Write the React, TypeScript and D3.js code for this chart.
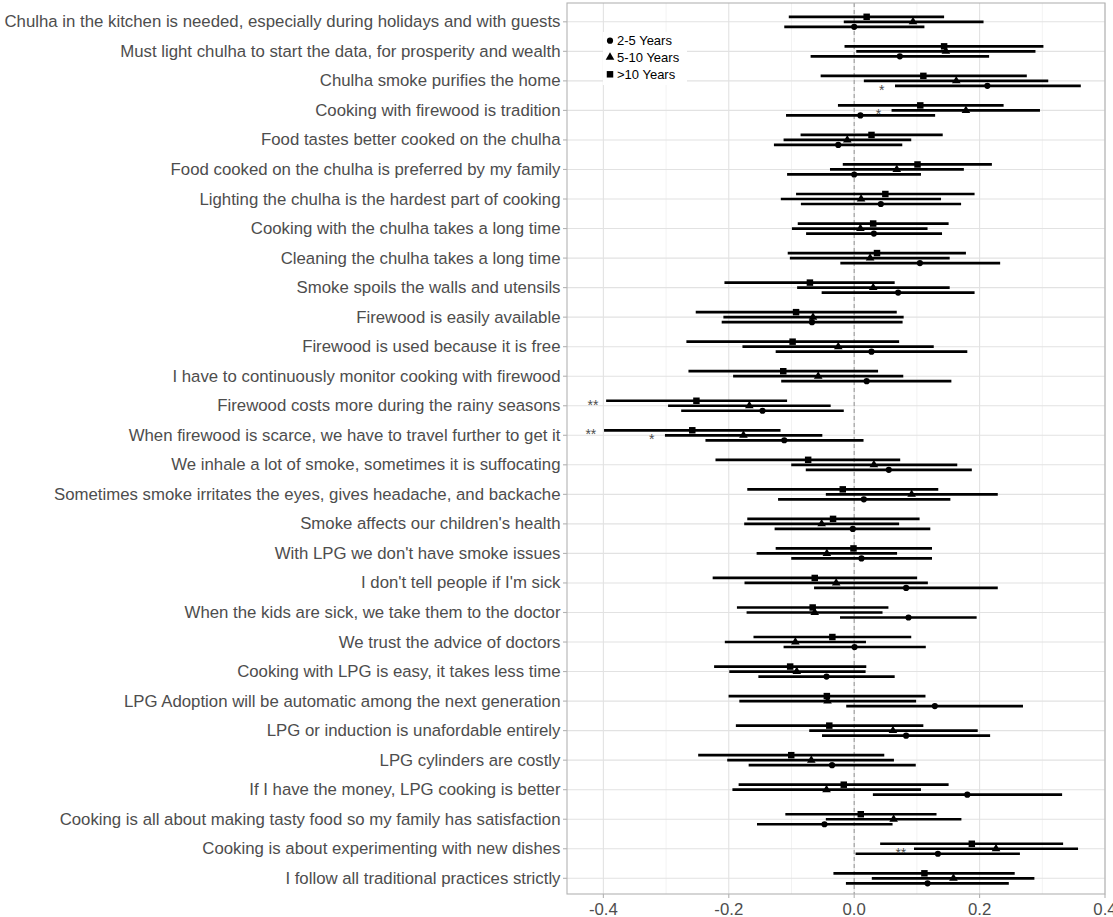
import React from "react";
import * as d3 from "d3";

const questions = [
  "Chulha in the kitchen is needed, especially during holidays and with guests",
  "Must light chulha to start the data, for prosperity and wealth",
  "Chulha smoke purifies the home",
  "Cooking with firewood is tradition",
  "Food tastes better cooked on the chulha",
  "Food cooked on the chulha is preferred by my family",
  "Lighting the chulha is the hardest part of cooking",
  "Cooking with the chulha takes a long time",
  "Cleaning the chulha takes a long time",
  "Smoke spoils the walls and utensils",
  "Firewood is easily available",
  "Firewood is used because it is free",
  "I have to continuously monitor cooking with firewood",
  "Firewood costs more during the rainy seasons",
  "When firewood is scarce, we have to travel further to get it",
  "We inhale a lot of smoke, sometimes it is suffocating",
  "Sometimes smoke irritates the eyes, gives headache, and backache",
  "Smoke affects our children's health",
  "With LPG we don't have smoke issues",
  "I don't tell people if I'm sick",
  "When the kids are sick, we take them to the doctor",
  "We trust the advice of doctors",
  "Cooking with LPG is easy, it takes less time",
  "LPG Adoption will be automatic among the next generation",
  "LPG or induction is unafordable entirely",
  "LPG cylinders are costly",
  "If I have the money, LPG cooking is better",
  "Cooking is all about making tasty food so my family has satisfaction",
  "Cooking is about experimenting with new dishes",
  "I follow all traditional practices strictly",
];

// 2-5 Years (circle)
const est25 = [0.0, 0.0728, 0.2124, 0.0099, -0.0254, 0.0, 0.0425, 0.0314, 0.1048, 0.0701,
  -0.0673, 0.0276, 0.0199, -0.1462, -0.1115, 0.0552, 0.0154, -0.0022, 0.0116, 0.0828,
  0.0866, 0.0006, -0.0441, 0.1286, 0.0828, -0.0353, 0.1804, -0.0474, 0.1335, 0.117];
const lo25 = [-0.1115, -0.0695, 0.0651, -0.1087, -0.128, -0.107, -0.085, -0.0767, -0.0221, -0.0519,
  -0.2113, -0.1252, -0.1164, -0.2759, -0.2372, -0.0772, -0.1214, -0.1269, -0.1004, -0.064,
  -0.0226, -0.1126, -0.1528, -0.0127, -0.0513, -0.1683, 0.0298, -0.155, 0.0022, -0.0132];
const hi25 = [0.112, 0.2152, 0.3614, 0.1291, 0.0767, 0.1065, 0.1705, 0.1401, 0.2328, 0.192,
  0.0772, 0.1804, 0.155, -0.0166, 0.0149, 0.1876, 0.1534, 0.1214, 0.1241, 0.229,
  0.1953, 0.1142, 0.0646, 0.2692, 0.2168, 0.0982, 0.3316, 0.0612, 0.2643, 0.2466];

// 5-10 Years (triangle)
const est510 = [0.0938, 0.1462, 0.1628, 0.1782, -0.011, 0.0679, 0.011, 0.0099, 0.0254, 0.0303,
  -0.0657, -0.0254, -0.0574, -0.1672, -0.1766, 0.0314, 0.0916, -0.0519, -0.0436, -0.0287,
  -0.0629, -0.0938, -0.0916, -0.0425, 0.0618, -0.0684, -0.0441, 0.0629, 0.2262, 0.1583];
const lo510 = [-0.0166, 0.0033, 0.0154, 0.0596, -0.1126, -0.0386, -0.117, -0.0993, -0.1026, -0.091,
  -0.2086, -0.1782, -0.1931, -0.2968, -0.3018, -0.1004, -0.0452, -0.1754, -0.1556, -0.1749,
  -0.1716, -0.2063, -0.1992, -0.1832, -0.0717, -0.2025, -0.1942, -0.0452, 0.0954, 0.0281];
const hi510 = [0.2063, 0.2891, 0.3095, 0.2963, 0.091, 0.1749, 0.1385, 0.117, 0.1523, 0.1523,
  0.0789, 0.1269, 0.0783, -0.0375, -0.0508, 0.1644, 0.229, 0.0717, 0.0684, 0.1175,
  0.0452, 0.0188, 0.0182, 0.0988, 0.197, 0.0634, 0.1065, 0.171, 0.357, 0.2874];

// >10 Years (square)
const est10 = [0.0199, 0.1434, 0.1103, 0.1054, 0.0276, 0.101, 0.0497, 0.0303, 0.0364, -0.0706,
  -0.0927, -0.0982, -0.1131, -0.2516, -0.2582, -0.0734, -0.0182, -0.0337, -0.0011, -0.0629,
  -0.0662, -0.0348, -0.1021, -0.0436, -0.0397, -0.1004, -0.0166, 0.0105, 0.1876, 0.112];
const lo10 = [-0.1043, -0.0154, -0.0535, -0.0259, -0.0855, -0.0182, -0.0927, -0.09, -0.106, -0.2069,
  -0.2527, -0.2676, -0.2643, -0.3956, -0.3989, -0.2212, -0.1705, -0.1705, -0.1252, -0.2257,
  -0.187, -0.1606, -0.2234, -0.2003, -0.1887, -0.2488, -0.1843, -0.1098, 0.0414, -0.0331];
const hi10 = [0.1434, 0.3018, 0.2753, 0.2383, 0.1412, 0.2196, 0.192, 0.1506, 0.1782, 0.0646,
  0.0679, 0.0717, 0.0381, -0.107, -0.1175, 0.0734, 0.1341, 0.1043, 0.1241, 0.1004,
  0.0546, 0.091, 0.0193, 0.1137, 0.1103, 0.048, 0.1506, 0.1313, 0.3332, 0.256];

const groupNames = ["2-5 Years", "5-10 Years", ">10 Years"];
const xTicks = [-0.4, -0.2, 0.0, 0.2, 0.4];
const xTickLabels = ["-0.4", "-0.2", "0.0", "0.2", "0.4"];
const xMinorTicks = [-0.3, -0.1, 0.1, 0.3];

// significance labels: question index, group index, label
const sigQuestion = [2, 3, 13, 14, 14, 28];
const sigGroup = [0, 1, 2, 2, 1, 1];
const sigText = ["*", "*", "**", "**", "*", "**"];

const W = 1113;
const H = 917;
const panel = { left: 567, right: 1105, top: 3, bottom: 894 };
const FONT = "'Liberation Sans', Arial, Helvetica, sans-serif";

export default function App() {
  const x = d3.scaleLinear().domain([-0.458, 0.4]).range([panel.left, panel.right]);
  const y = d3.scalePoint<string>().domain(questions).range([21.8, 878.3]);
  const offsets = [5, 0, -5];
  const symTypes = [d3.symbolCircle, d3.symbolTriangle, d3.symbolSquare];
  const symSizes = [30, 32, 42];
  const series = [
    { est: est25, lo: lo25, hi: hi25 },
    { est: est510, lo: lo510, hi: hi510 },
    { est: est10, lo: lo10, hi: hi10 },
  ];
  const sym = (g: number) => d3.symbol().type(symTypes[g]).size(symSizes[g])() as string;

  return (
    <svg width={W} height={H} style={{ position: "absolute", left: 0, top: 0, display: "block" }}
      fontFamily={FONT}>
      <rect x={0} y={0} width={W} height={H} fill="#ffffff" />
      {/* minor grid */}
      {xMinorTicks.map((t) => (
        <line key={"mn" + t} x1={x(t)} x2={x(t)} y1={panel.top} y2={panel.bottom}
          stroke="#ededed" strokeWidth={0.7} />
      ))}
      {xTicks.map((t) => (
        <line key={"mj" + t} x1={x(t)} x2={x(t)} y1={panel.top} y2={panel.bottom}
          stroke="#e2e2e2" strokeWidth={1.1} />
      ))}
      {questions.map((q) => (
        <line key={"hg" + q} x1={panel.left} x2={panel.right} y1={y(q)} y2={y(q)}
          stroke="#e2e2e2" strokeWidth={1.1} />
      ))}
      {/* zero line */}
      <line x1={x(0)} x2={x(0)} y1={panel.top} y2={panel.bottom} stroke="#9a9a9a"
        strokeWidth={1.1} strokeDasharray="4,3" />
      {/* legend background */}
      <rect x={603} y={32} width={84} height={53} fill="#ffffff" />
      {/* error bars */}
      {series.map((s, g) =>
        questions.map((q, i) => (
          <line key={"eb" + g + "-" + i} x1={x(s.lo[i])} x2={x(s.hi[i])}
            y1={(y(q) as number) + offsets[g]} y2={(y(q) as number) + offsets[g]}
            stroke="#000" strokeWidth={2.7} />
        ))
      )}
      {series.map((s, g) =>
        questions.map((q, i) => (
          <path key={"pt" + g + "-" + i} d={sym(g)}
            transform={`translate(${x(s.est[i])},${(y(q) as number) + offsets[g]})`} fill="#000" />
        ))
      )}
      {sigQuestion.map((qi, k) => {
        const g = sigGroup[k];
        const lo = series[g].lo[qi];
        return (
          <text key={"sig" + k} x={x(lo - 0.021)} y={(y(questions[qi]) as number) + offsets[g] + 4}
            textAnchor="middle" dominantBaseline="central" fontSize={14} fill="#4d4d4d">
            {sigText[k]}
          </text>
        );
      })}
      {/* legend */}
      {groupNames.map((name, g) => (
        <g key={"lg" + g} transform={`translate(0,${[40.7, 57.3, 74.3][g]})`}>
          <path d={sym(g)} transform="translate(610,0)" fill="#000" />
          <text x={617} y={0} dominantBaseline="central" fontSize={13} fill="#000">{name}</text>
        </g>
      ))}
      {/* panel border */}
      <rect x={panel.left} y={panel.top} width={panel.right - panel.left}
        height={panel.bottom - panel.top} fill="none" stroke="#b3b3b3" strokeWidth={1.1} />
      {/* y axis ticks & labels */}
      {questions.map((q) => (
        <g key={"yl" + q}>
          <line x1={panel.left - 4} x2={panel.left} y1={y(q)} y2={y(q)} stroke="#b3b3b3" strokeWidth={1.1} />
          <text x={panel.left - 6.5} y={y(q)} textAnchor="end" dominantBaseline="central"
            fontSize={16.8} fill="#4d4d4d">{q}</text>
        </g>
      ))}
      {/* x axis ticks & labels */}
      {xTicks.map((t, i) => (
        <g key={"xl" + t}>
          <line x1={x(t)} x2={x(t)} y1={panel.bottom} y2={panel.bottom + 4} stroke="#b3b3b3" strokeWidth={1.1} />
          <text x={x(t)} y={panel.bottom + 15} textAnchor="middle" dominantBaseline="central"
            fontSize={16.8} fill="#4d4d4d">{xTickLabels[i]}</text>
        </g>
      ))}
    </svg>
  );
}
